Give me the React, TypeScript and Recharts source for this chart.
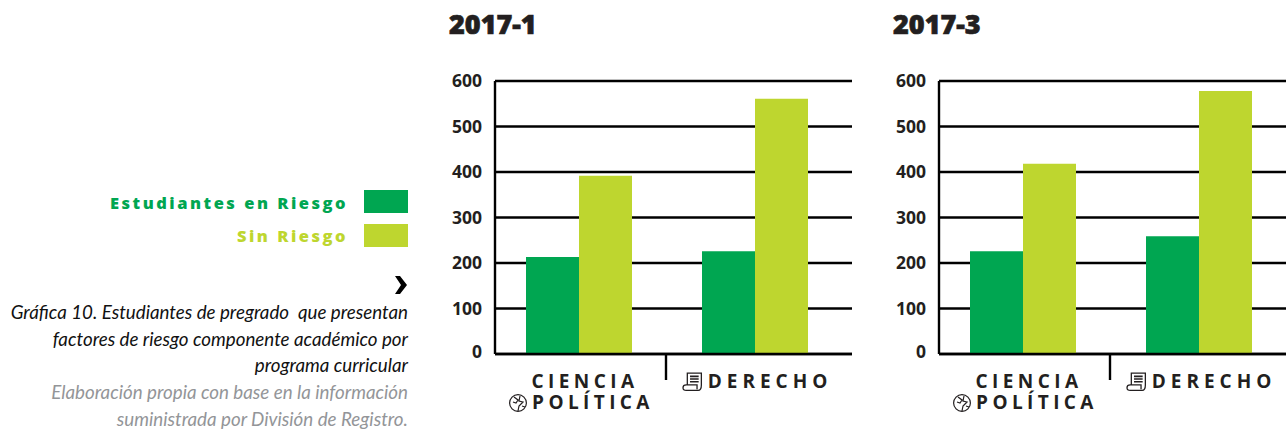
import React from 'react';
import { BarChart, Bar, XAxis, YAxis, CartesianGrid } from 'recharts';

const categories = ['CIENCIA POLÍTICA', 'DERECHO'];
const periods = ['2017-1', '2017-3'];
const enRiesgo = [[213, 226], [226, 259]];
const sinRiesgo = [[392, 561], [418, 578]];
const yTicks = [0, 100, 200, 300, 400, 500, 600];

const GREEN = '#00a651';
const LIME = '#bed62f';
const INK = '#231f20';
const SANS = '"Open Sans", sans-serif';

const labelStyle = { fontFamily: SANS, fontSize: 19, fontWeight: 700, letterSpacing: 4.4, fill: INK };

const GlobeIcon = ({ x, y }: { x: number; y: number }) => (
  <g transform={`translate(${x},${y})`} fill="none" stroke={INK} strokeWidth={1.2}>
    <circle cx={9} cy={9} r={8.4} />
    <path d="M5 3 L9 6 L7 9 L4 8 M11 2 L10 7 L14 8 L10 12 L9 17 M13 12 L16 13" />
  </g>
);

const ScrollIcon = ({ x, y }: { x: number; y: number }) => (
  <g transform={`translate(${x},${y}) scale(1.08)`} fill="none" stroke={INK} strokeWidth={1.2}>
    <path d="M4 12 V1 H17 V12 Q17 17 14 17 H3 Q0 17 0 14.5 Q0 12 3 12 H13 V16" />
    <path d="M6.5 4 H14.5 M6.5 6.5 H14.5 M6.5 9 H14.5" strokeWidth={1.5} />
  </g>
);

const CategoryTick = (props: any) => {
  const { x, y, payload, index } = props;
  if (index === 0) {
    const [first, second] = String(payload.value).split(' ');
    return (
      <g>
        <line x1={x + 87} x2={x + 87} y1={y - 8} y2={y + 18} stroke="#000" strokeWidth={2.4} />
        <text textAnchor="middle" style={labelStyle}>
          <tspan x={x + 6} y={y + 26}>{first}</tspan>
          <tspan x={x + 14} y={y + 47}>{second}</tspan>
        </text>
        <GlobeIcon x={x - 70} y={y + 32} />
      </g>
    );
  }
  return (
    <g>
      <text x={x + 15} y={y + 26} textAnchor="middle" style={{ ...labelStyle, letterSpacing: 5 }}>{payload.value}</text>
      <ScrollIcon x={x - 72} y={y + 10} />
    </g>
  );
};

const ValueTick = (props: any) => {
  const { x, y, payload } = props;
  return (
    <text
      x={x}
      y={payload.value === 0 ? y - 2 : y}
      dy="0.355em"
      textAnchor="end"
      style={{ fontFamily: SANS, fontSize: 17.5, fontWeight: 700, fill: INK }}
    >
      {payload.value}
    </text>
  );
};

const Panel = ({ period, left, index }: { period: string; left: number; index: number }) => {
  const data = categories.map((name, i) => ({
    name,
    enRiesgo: enRiesgo[index][i],
    sinRiesgo: sinRiesgo[index][i],
  }));
  return (
    <div style={{ position: 'absolute', left, top: 0, width: 420, height: 430 }}>
      <div style={{ position: 'absolute', left: 9, top: 6, fontFamily: SANS, fontSize: 27, fontWeight: 800, color: INK, lineHeight: '36px', WebkitTextStroke: '0.7px ' + INK }}>
        {period}
      </div>
      <BarChart width={420} height={430} data={data} barSize={53} barGap={0} margin={{ top: 81, right: 8, bottom: 0, left: 0 }}>
        <CartesianGrid vertical={false} stroke="#000" strokeWidth={2.4} />
        <XAxis
          dataKey="name"
          height={76}
          padding={{ left: -4, right: 9 }}
          axisLine={{ stroke: '#000', strokeWidth: 2.4 }}
          tickLine={false}
          tick={<CategoryTick />}
          interval={0}
        />
        <YAxis
          width={55}
          domain={[0, 600]}
          ticks={yTicks}
          axisLine={{ stroke: '#000', strokeWidth: 2.4 }}
          tickLine={false}
          tickMargin={7}
          tick={<ValueTick />}
        />
        <Bar dataKey="enRiesgo" fill={GREEN} isAnimationActive={false} />
        <Bar dataKey="sinRiesgo" fill={LIME} isAnimationActive={false} />
      </BarChart>
    </div>
  );
};

const LegendRow = ({ label, color, top, textTop }: { label: string; color: string; top: number; textTop: number }) => (
  <>
    <div style={{ position: 'absolute', right: 938, top: textTop, lineHeight: '26px', fontFamily: SANS, fontSize: 16.5, fontWeight: 800, letterSpacing: 2.5, color, whiteSpace: 'nowrap' }}>
      {label}
    </div>
    <div style={{ position: 'absolute', left: 364, top, width: 44, height: 23, background: color }} />
  </>
);

const captionStyle: React.CSSProperties = {
  position: 'absolute',
  right: 878,
  whiteSpace: 'nowrap',
  textAlign: 'right',
  fontFamily: 'Lato, sans-serif',
  fontStyle: 'italic',
  fontSize: 18.75,
  lineHeight: '26.5px',
  margin: 0,
};

export default function App() {
  return (
    <div style={{ position: 'fixed', left: 0, top: 0, width: 1286, height: 430, overflow: 'hidden', background: '#fff' }}>
      <LegendRow label="Estudiantes en Riesgo" color={GREEN} top={190} textTop={190} />
      <LegendRow label="Sin Riesgo" color={LIME} top={224} textTop={223} />
      <svg style={{ position: 'absolute', left: 394, top: 275 }} width={14} height={20}>
        <path d="M1 1 H6 L13 10 L6 19 H1 L7 10 Z" fill="#000" />
      </svg>
      <p style={{ ...captionStyle, top: 299, color: '#111' }}>
        Gráfica 10. Estudiantes de pregrado&nbsp; que presentan<br />
        factores de riesgo componente académico por<br />
        programa curricular
      </p>
      <p style={{ ...captionStyle, top: 379, color: '#939598' }}>
        Elaboración propia con base en la información<br />
        suministrada por División de Registro.
      </p>
      {periods.map((period, i) => (
        <Panel key={period} period={period} index={i} left={440 + i * 444} />
      ))}
    </div>
  );
}
